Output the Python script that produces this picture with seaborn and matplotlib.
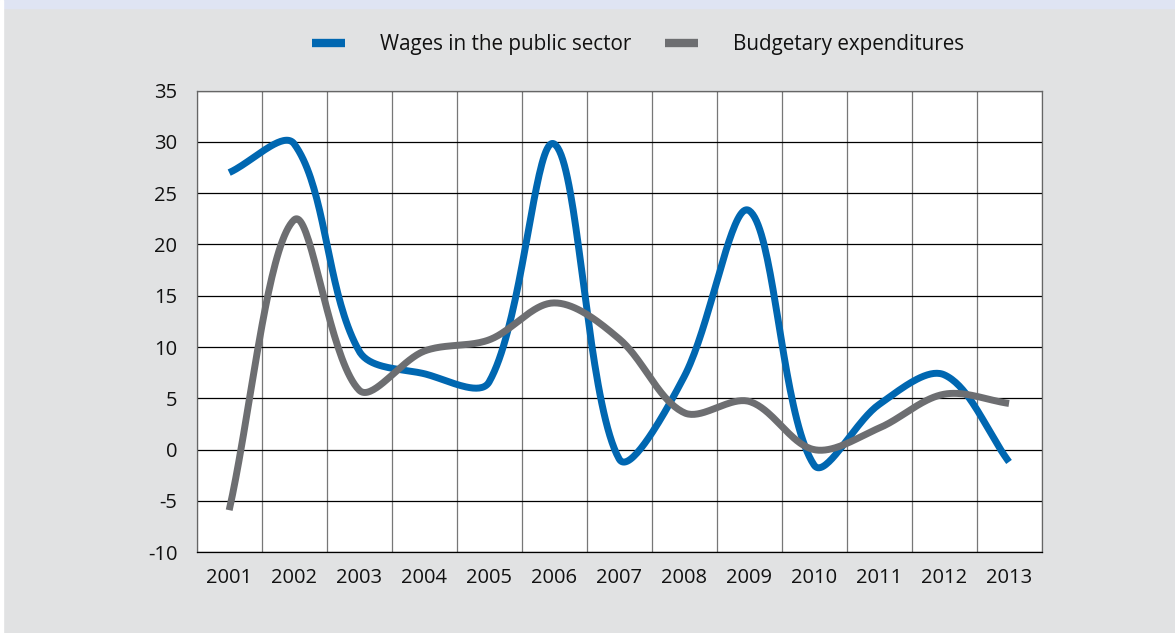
import numpy as np
import matplotlib
matplotlib.use("Agg")
import matplotlib.pyplot as plt
from matplotlib.patches import Rectangle
from matplotlib.lines import Line2D
import seaborn as sns

# Data (annual % change)
years = ['2001', '2002', '2003', '2004', '2005', '2006', '2007',
         '2008', '2009', '2010', '2011', '2012', '2013']
wages = [27.0, 29.8, 9.6, 7.4, 6.6, 29.8, -0.9, 7.1, 23.3, -1.5, 4.4, 7.3, -1.2]
budget = [-5.9, 22.4, 5.8, 9.6, 10.7, 14.3, 10.8, 3.6, 4.7, 0.0, 2.1, 5.4, 4.5]
y_ticks = list(range(-10, 40, 5))
series_names = ['Wages in the public sector', 'Budgetary expenditures']
colors = ['#0067b1', '#6d6e71']

sns.set_theme(style='white')
plt.rcParams['font.family'] = ['Open Sans', 'DejaVu Sans']

bg = '#e1e2e3'
fig = plt.figure(figsize=(11.75, 6.33), dpi=100, facecolor=bg)
fig.patches.append(Rectangle((0, 1 - 8 / 633), 1, 8 / 633, transform=fig.transFigure,
                             color='#dfe4f3', zorder=0))
fig.patches.append(Rectangle((0, 0), 3 / 1175, 1, transform=fig.transFigure,
                             color='white', zorder=0))

ax = fig.add_axes([0.1674, 0.1276, 0.719, 0.7294])
ax.set_facecolor('white')
ax.set_xlim(-0.5, len(years) - 0.5)
ax.set_ylim(y_ticks[0], y_ticks[-1])


def smooth_curve(ys, sx, sy, n=40):
    # Excel-like smoothed line: cubic Bezier segments with control arms
    # scaled by neighbouring segment lengths (in screen space)
    P = np.column_stack([np.arange(len(ys)) * sx, np.asarray(ys, float) * sy])
    k = len(P)
    t = np.linspace(0, 1, n)[:, None]
    out = []
    for i in range(k - 1):
        p0 = P[i - 1] if i > 0 else P[i]
        p1, p2 = P[i], P[i + 1]
        p3 = P[i + 2] if i + 2 < k else P[i + 1]
        d01 = np.hypot(*(p1 - p0))
        d12 = np.hypot(*(p2 - p1))
        d23 = np.hypot(*(p3 - p2))
        c1 = p1 + (p2 - p0) * d12 / (d01 + d12) / 3
        c2 = p2 - (p3 - p1) * d12 / (d12 + d23) / 3
        seg = (1 - t) ** 3 * p1 + 3 * (1 - t) ** 2 * t * c1 + 3 * (1 - t) * t ** 2 * c2 + t ** 3 * p2
        out.append(seg if i == 0 else seg[1:])
    curve = np.vstack(out)
    return curve[:, 0] / sx, curve[:, 1] / sy


o = ax.transData.transform((0, 0))
u = ax.transData.transform((1, 1))
sx, sy = u - o

for vals, name, c in zip([wages, budget], series_names, colors):
    cx, cy = smooth_curve(vals, sx, sy)
    sns.lineplot(x=cx, y=cy, ax=ax, color=c, lw=5, sort=False, estimator=None,
                 solid_capstyle='butt', zorder=3)

ax.set_xticks(range(len(years)))
ax.set_xticklabels(years)
ax.set_xticks(np.arange(-0.5, len(years), 1), minor=True)
ax.set_yticks(y_ticks)
ax.set_yticklabels([str(v) for v in y_ticks])
ax.tick_params(which='both', length=0)
ax.tick_params(axis='x', pad=11, labelsize=14.5, colors='#111111')
ax.tick_params(axis='y', pad=14, labelsize=14.5, colors='#111111')
ax.grid(False)
ax.grid(which='minor', axis='x', color='#777777', lw=0.9)
ax.grid(which='major', axis='y', color='black', lw=0.9)
ax.set_axisbelow(True)
ax.set_xlabel('')
ax.set_ylabel('')
for side in ['left', 'right', 'top']:
    ax.spines[side].set_color('#666666')
    ax.spines[side].set_linewidth(0.9)
ax.spines['bottom'].set_color('black')
ax.spines['bottom'].set_linewidth(0.9)

handles = [Line2D([], [], color=c, lw=6, solid_capstyle='butt') for c in colors]
fig.legend(handles, series_names, loc='center', bbox_to_anchor=(0.543, 0.929), ncol=2,
           frameon=False, fontsize=14.9, handlelength=1.6, handletextpad=1.7,
           columnspacing=1.6, labelcolor='#111111')

fig.savefig('out.png', dpi=100, facecolor=bg)
